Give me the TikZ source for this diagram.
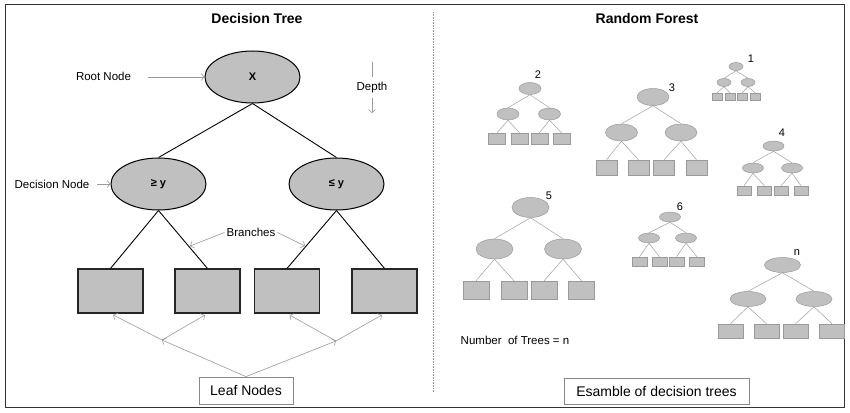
\documentclass[tikz,border=0pt]{standalone}
\usepackage{fontspec}
\setmainfont{Liberation Sans}
\usetikzlibrary{shapes.geometric,arrows.meta,calc}
\definecolor{gfill}{HTML}{C0C0C0}
\definecolor{gline}{HTML}{A0A0A0}
\definecolor{aline}{HTML}{9A9A9A}
\definecolor{framec}{HTML}{333333}
\definecolor{boxline}{HTML}{888888}

\tikzset{
  title/.style={font=\fontsize{14}{16}\selectfont\bfseries, inner sep=0pt},
  lbl/.style={font=\fontsize{11.5}{13}\selectfont, inner sep=0pt},
  num/.style={font=\fontsize{11}{13}\selectfont, inner sep=0pt},
  bigell/.style={ellipse, draw=black, fill=gfill, line width=1pt, inner sep=0pt,
    minimum width=95pt, minimum height=52pt, font=\fontsize{11}{13}\selectfont\bfseries},
  bigleaf/.style={rectangle, draw=black!85, fill=gfill, line width=1.1pt, inner sep=0pt,
    minimum width=65pt, minimum height=44pt},
  mainedge/.style={draw=black, line width=0.9pt},
  garrow/.style={draw=aline, line width=0.6pt, -{Straight Barb[length=3pt,width=7pt]}},
  gline/.style={draw=aline, line width=0.6pt},
  textbox/.style={rectangle, draw=boxline, fill=white, line width=0.8pt, inner sep=0pt,
    font=\fontsize{14}{16}\selectfont},
  sell/.style={ellipse, draw=aline, fill=gfill, line width=0.5pt, inner sep=0pt},
  sleaf/.style={rectangle, draw=aline, fill=gfill, line width=0.5pt, inner sep=0pt},
  sedge/.style={draw=gline, line width=0.5pt},
}

\newcommand\stree[8]{%
  \node[sell,#5] (#1r) at (#2) {};
  \node[sell,#5] (#1a) at (#3) {};
  \node[sell,#5] (#1b) at (#4) {};
  \foreach \lx [count=\ii] in {#7} {\node[sleaf,#8] (#1l\ii) at (\lx,#6) {};}
  \draw[sedge] (#1r.south) -- (#1a.north) (#1r.south) -- (#1b.north)
    (#1a.south) -- (#1l1.north) (#1a.south) -- (#1l2.north)
    (#1b.south) -- (#1l3.north) (#1b.south) -- (#1l4.north);
}

\begin{document}
\begin{tikzpicture}[x=1pt,y=-1pt]
\useasboundingbox (0,0) rectangle (850,412);
\fill[white] (0,0) rectangle (850,412);
\draw[framec, line width=1pt] (5,5) rectangle (844,407);

% divider
\coordinate (dvtop) at (433,12);
\coordinate (dvbot) at (433,392);
\draw[aline, line width=0.6pt, densely dotted] (dvtop) -- (dvbot);

% titles
\node[title] (t1) at (257,18) {Decision Tree};
\node[title] (t2) at (647,18) {Random Forest};

% ---------- Decision tree ----------
\node[bigell] (root) at (252.5,77) {X};
\node[bigell] (decL) at (158.5,184) {≥ y};
\node[bigell] (decR) at (336.5,184) {≤ y};
\node[bigleaf] (box1) at (110.5,291) {};
\node[bigleaf] (box2) at (207.5,291) {};
\node[bigleaf] (box3) at (287,291) {};
\node[bigleaf] (box4) at (384.5,291) {};

\draw[mainedge] (root.south) -- (decL.north);
\draw[mainedge] (root.south) -- (decR.north);
\draw[mainedge] (decL.south) -- (box1.north);
\draw[mainedge] (decL.south) -- (box2.north);
\draw[mainedge] (decR.south) -- (box3.north);
\draw[mainedge] (decR.south) -- (box4.north);

% labels
\node[lbl] (rootlbl) at (103.5,76) {Root Node};
\coordinate (rootarr) at (148,77);
\draw[garrow] (rootarr) -- (root.west);

\node[lbl] (declbl) at (52,184) {Decision Node};
\coordinate (decarr) at (97,184);
\draw[garrow] (decarr) -- (decL.west);

\node[lbl] (depth) at (372,87.5) {Depth};
\coordinate (dtop) at (372,62);
\coordinate (dbot) at (372,113);
\draw[gline, shorten >=4.5pt] (dtop) -- (depth.north);
\draw[garrow, shorten <=4.5pt] (depth.south) -- (dbot);

\node[lbl] (branch) at (251,232) {Branches};
\coordinate (brL) at (190,246);
\coordinate (brR) at (305,246);
\draw[garrow] ($(branch.west)+(-2,0.5)$) -- (brL);
\draw[garrow] ($(branch.east)+(2,0.5)$) -- (brR);

\node[textbox, minimum width=94pt, minimum height=27pt] (leafn) at (246,390.5) {Leaf Nodes};
\coordinate (A) at (162,340);
\coordinate (B) at (336,341);
\draw[garrow] (leafn.north) -- (A);
\draw[garrow] (leafn.north) -- (B);
\draw[garrow, shorten >=3pt] (A) -- (box1.south);
\draw[garrow, shorten >=3pt] (A) -- (box2.south);
\draw[garrow, shorten >=3pt] (B) -- (box3.south);
\draw[garrow, shorten >=3pt] (B) -- (box4.south);

% ---------- Random forest ----------
\stree{ta}{736,66.5}{724,82.5}{748,82.5}{minimum width=14pt,minimum height=8pt}{96.5}{717,730,742,755}{minimum width=10pt,minimum height=7pt}
\node[num] (na) at (751,59) {1};

\stree{tb}{530,88.5}{508,114}{549.5,114}{minimum width=22pt,minimum height=12pt}{138.5}{497,519.5,539.5,561.5}{minimum width=17pt,minimum height=11pt}
\node[num] (nb) at (538,75) {2};

\stree{tc}{653,97}{621.5,132.5}{681,132.5}{minimum width=32pt,minimum height=17pt}{167.5}{606.5,638.5,664,696.5}{minimum width=21pt,minimum height=15pt}
\node[num] (nc) at (672,88) {3};

\stree{td}{773.5,146}{753,168}{792,168}{minimum width=21pt,minimum height=10pt}{190.5}{744,764.5,781,801}{minimum width=14pt,minimum height=9pt}
\node[num] (nd) at (782,133) {4};

\stree{te}{530.5,207.5}{494.5,249}{563,249}{minimum width=37pt,minimum height=20pt}{290}{476,514,544,581.5}{minimum width=26pt,minimum height=18pt}
\node[num] (ne) at (549,196) {5};

\stree{tf}{670,217}{649,238}{686,238}{minimum width=21pt,minimum height=10pt}{261.5}{639.5,659.5,676.5,697}{minimum width=15pt,minimum height=9pt}
\node[num] (nf) at (680,207) {6};

\stree{tg}{782.5,265}{748,299}{814,299}{minimum width=36pt,minimum height=15pt}{331}{730.5,766.5,795.5,832}{minimum width=25pt,minimum height=14pt}
\node[num] (ng) at (797,253) {n};

\node[lbl] (ntrees) at (515,340) {Number\ \ of Trees = n};

\node[textbox, minimum width=185pt, minimum height=26pt] (esam) at (656.5,391) {Esamble of decision trees};
\end{tikzpicture}
\end{document}
